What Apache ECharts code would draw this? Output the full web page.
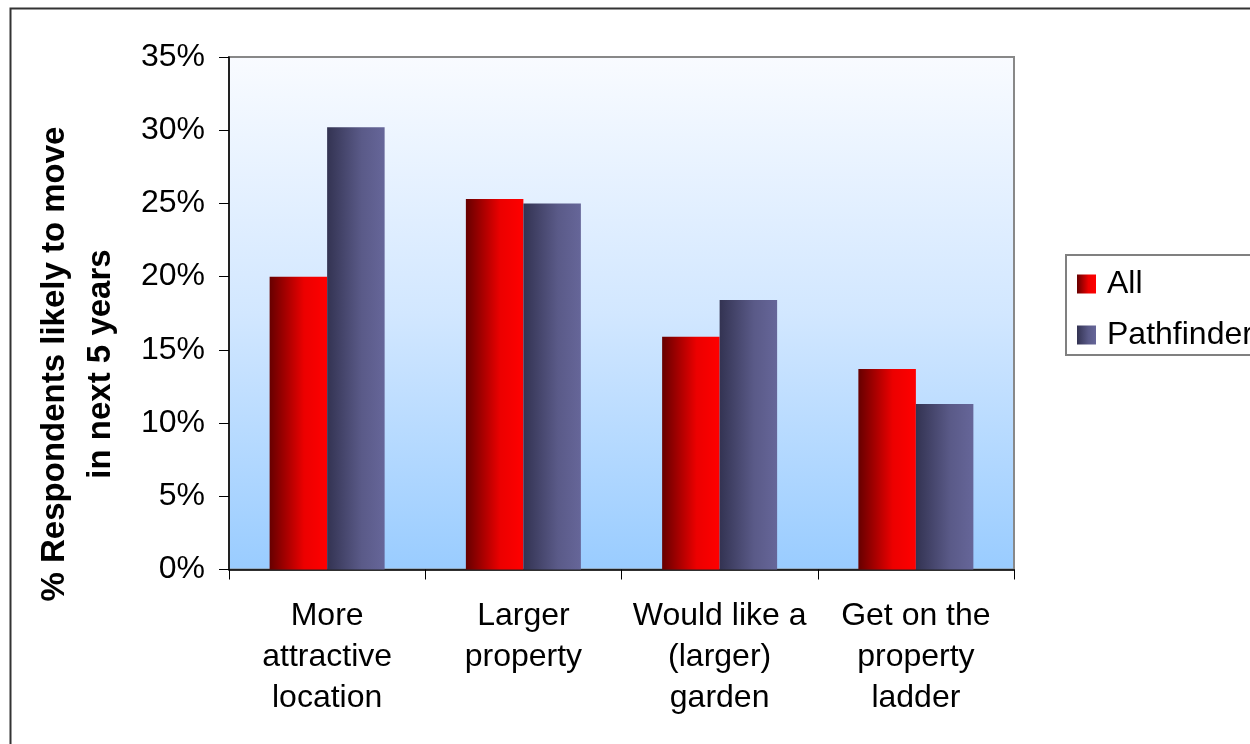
<!DOCTYPE html>
<html>
<head>
<meta charset="utf-8">
<script src="https://cdn.jsdelivr.net/npm/echarts@6/dist/echarts.min.js"></script>
<style>html,body{margin:0;padding:0;background:#fff}#c{width:1250px;height:744px}</style>
</head>
<body>
<div id="c"></div>
<script>
const categories = ['More\nattractive\nlocation', 'Larger\nproperty', 'Would like a\n(larger)\ngarden', 'Get on the\nproperty\nladder'];
const allValues = [20.0, 25.3, 15.9, 13.7];
const pathfinderValues = [30.2, 25.0, 18.4, 11.3];
const seriesNames = ['All', 'Pathfinder'];
const yAxisTitle = '% Respondents likely to move\nin next 5 years';
const yTicks = {min: 0, max: 35, interval: 5};

const FONT = '"Liberation Sans", Arial, sans-serif';
const chart = echarts.init(document.getElementById('c'));
const redGrad = new echarts.graphic.LinearGradient(0, 0, 1, 0, [
  {offset: 0, color: '#660000'}, {offset: 0.6, color: '#ec0000'}, {offset: 1, color: '#ff0000'}]);
const blueGrad = new echarts.graphic.LinearGradient(0, 0, 1, 0, [
  {offset: 0, color: '#333352'}, {offset: 0.6, color: '#5a5a88'}, {offset: 1, color: '#666699'}]);

chart.setOption({
  animation: false,
  backgroundColor: '#fff',
  graphic: [{
    type: 'rect', left: 8, top: 6, shape: {width: 1400, height: 900},
    style: {fill: 'none', stroke: '#333', lineWidth: 2}, silent: true, z: -1
  }, {
    type: 'text', x: 78, y: 364, rotation: Math.PI / 2, silent: true,
    style: {text: yAxisTitle, fontFamily: FONT, fontSize: 33, fontWeight: 'bold', fill: '#000',
      lineHeight: 46, align: 'center', verticalAlign: 'middle'}
  }],
  grid: {
    left: 229, top: 57, width: 785, height: 512.5,
    show: true, borderColor: '#888', borderWidth: 2,
    backgroundColor: new echarts.graphic.LinearGradient(0, 0, 0, 1, [
      {offset: 0, color: '#f9fbff'}, {offset: 0.5, color: '#d2e7ff'}, {offset: 1, color: '#99ccff'}])
  },
  legend: {
    left: 1066, top: 255, orient: 'vertical',
    data: seriesNames,
    itemWidth: 19, itemHeight: 19, itemGap: 17,
    padding: [12, 40, 3, 11],
    borderColor: '#808080', borderWidth: 2,
    textStyle: {fontFamily: FONT, fontSize: 32, color: '#000', lineHeight: 34, padding: [0, 0, 0, 6]},
    icon: 'rect'
  },
  xAxis: {
    type: 'category', data: categories,
    axisLine: {lineStyle: {color: '#000', width: 1.5}},
    axisTick: {show: true, length: 10, lineStyle: {color: '#000'}},
    axisLabel: {fontFamily: FONT, fontSize: 32, color: '#000', lineHeight: 41, margin: 26, interval: 0}
  },
  yAxis: {
    type: 'value', min: yTicks.min, max: yTicks.max, interval: yTicks.interval,
    axisLine: {show: true, lineStyle: {color: '#000', width: 1.5}},
    axisTick: {show: true, length: 10, lineStyle: {color: '#000'}},
    splitLine: {show: false},
    axisLabel: {fontFamily: FONT, fontSize: 32, color: '#000', margin: 24, formatter: v => v + '%'}
  },
  series: [
    {name: seriesNames[0], type: 'bar', data: allValues, barWidth: 57.5, barGap: '0%', itemStyle: {color: redGrad}},
    {name: seriesNames[1], type: 'bar', data: pathfinderValues, barWidth: 57.5, barGap: '0%', itemStyle: {color: blueGrad}}
  ]
});
</script>
</body>
</html>
